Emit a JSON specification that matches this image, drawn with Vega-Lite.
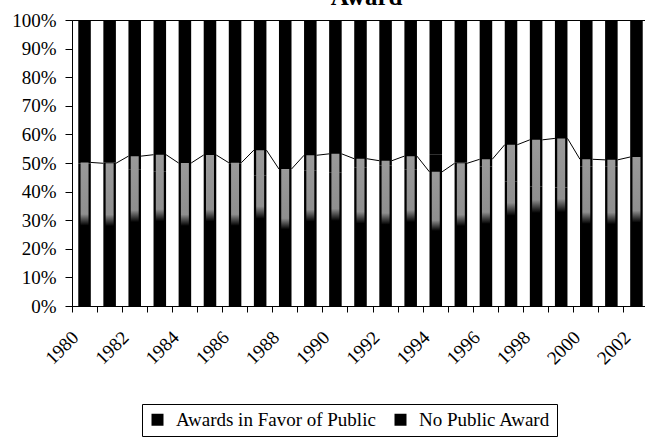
{
  "$schema": "https://vega.github.io/schema/vega-lite/v6.json",
  "width": 577,
  "height": 286,
  "autosize": {"type": "none"},
  "padding": {"left": 72, "top": 20, "right": 0, "bottom": 133},
  "background": "white",
  "config": {
    "view": {"stroke": "black", "strokeWidth": 1},
    "font": "Liberation Serif"
  },
  "title": {
    "text": "Award",
    "font": "Liberation Serif",
    "fontSize": 25,
    "fontWeight": "bold",
    "color": "black",
    "anchor": "middle",
    "baseline": "alphabetic",
    "offset": -6,
    "dy": 13,
    "dx": 6
  },
  "data": {
    "values": [
      {"year": 1980, "series": "Awards in Favor of Public", "value": 50.2},
      {"year": 1980, "series": "No Public Award", "value": 49.8},
      {"year": 1981, "series": "Awards in Favor of Public", "value": 49.9},
      {"year": 1981, "series": "No Public Award", "value": 50.1},
      {"year": 1982, "series": "Awards in Favor of Public", "value": 52.4},
      {"year": 1982, "series": "No Public Award", "value": 47.6},
      {"year": 1983, "series": "Awards in Favor of Public", "value": 52.9},
      {"year": 1983, "series": "No Public Award", "value": 47.1},
      {"year": 1984, "series": "Awards in Favor of Public", "value": 50.0},
      {"year": 1984, "series": "No Public Award", "value": 50.0},
      {"year": 1985, "series": "Awards in Favor of Public", "value": 52.8},
      {"year": 1985, "series": "No Public Award", "value": 47.2},
      {"year": 1986, "series": "Awards in Favor of Public", "value": 50.1},
      {"year": 1986, "series": "No Public Award", "value": 49.9},
      {"year": 1987, "series": "Awards in Favor of Public", "value": 54.5},
      {"year": 1987, "series": "No Public Award", "value": 45.5},
      {"year": 1988, "series": "Awards in Favor of Public", "value": 47.9},
      {"year": 1988, "series": "No Public Award", "value": 52.1},
      {"year": 1989, "series": "Awards in Favor of Public", "value": 52.7},
      {"year": 1989, "series": "No Public Award", "value": 47.3},
      {"year": 1990, "series": "Awards in Favor of Public", "value": 53.2},
      {"year": 1990, "series": "No Public Award", "value": 46.8},
      {"year": 1991, "series": "Awards in Favor of Public", "value": 51.5},
      {"year": 1991, "series": "No Public Award", "value": 48.5},
      {"year": 1992, "series": "Awards in Favor of Public", "value": 50.8},
      {"year": 1992, "series": "No Public Award", "value": 49.2},
      {"year": 1993, "series": "Awards in Favor of Public", "value": 52.4},
      {"year": 1993, "series": "No Public Award", "value": 47.6},
      {"year": 1994, "series": "Awards in Favor of Public", "value": 46.9},
      {"year": 1994, "series": "No Public Award", "value": 53.1},
      {"year": 1995, "series": "Awards in Favor of Public", "value": 49.9},
      {"year": 1995, "series": "No Public Award", "value": 50.1},
      {"year": 1996, "series": "Awards in Favor of Public", "value": 51.3},
      {"year": 1996, "series": "No Public Award", "value": 48.7},
      {"year": 1997, "series": "Awards in Favor of Public", "value": 56.4},
      {"year": 1997, "series": "No Public Award", "value": 43.6},
      {"year": 1998, "series": "Awards in Favor of Public", "value": 58.1},
      {"year": 1998, "series": "No Public Award", "value": 41.9},
      {"year": 1999, "series": "Awards in Favor of Public", "value": 58.6},
      {"year": 1999, "series": "No Public Award", "value": 41.4},
      {"year": 2000, "series": "Awards in Favor of Public", "value": 51.3},
      {"year": 2000, "series": "No Public Award", "value": 48.7},
      {"year": 2001, "series": "Awards in Favor of Public", "value": 51.1},
      {"year": 2001, "series": "No Public Award", "value": 48.9},
      {"year": 2002, "series": "Awards in Favor of Public", "value": 52.1},
      {"year": 2002, "series": "No Public Award", "value": 47.9}
    ]
  },
  "encoding": {
    "x": {
      "field": "year",
      "type": "ordinal",
      "scale": {"paddingInner": 0.5, "paddingOuter": 0.25},
      "axis": {
        "title": null,
        "labelAngle": -45,
        "labelAlign": "right",
        "labelBaseline": "middle",
        "bandPosition": -0.5,
        "labelOffset": -9,
        "labelPadding": 22,
        "labelExpr": "datum.value % 2 == 0 ? datum.label : ''",
        "labelFont": "Liberation Serif",
        "labelFontSize": 19,
        "labelColor": "black",
        "labelOverlap": false,
        "domainColor": "black",
        "tickColor": "black",
        "tickSize": 6,
        "grid": false
      }
    }
  },
  "resolve": {"axis": {"y": "independent"}},
  "layer": [
    {
      "mark": {"type": "bar"},
      "encoding": {
        "y": {
          "field": "value",
          "type": "quantitative",
          "stack": "zero",
          "scale": {"domain": [0, 100], "nice": false},
          "axis": {
            "title": null,
            "values": [0, 10, 20, 30, 40, 50, 60, 70, 80, 90, 100],
            "labelExpr": "datum.value + '%'",
            "labelFont": "Liberation Serif",
            "labelFontSize": 19,
            "labelColor": "black",
            "labelOverlap": false,
            "labelSeparation": 0,
            "labelFlush": false,
            "domainColor": "black",
            "tickColor": "black",
            "tickSize": 7,
            "labelPadding": 9,
            "grid": false
          }
        },
        "color": {
          "field": "series",
          "type": "nominal",
          "scale": {
            "domain": ["Awards in Favor of Public", "No Public Award"],
            "range": ["#000000", "#000000"]
          },
          "legend": {
            "title": null,
            "orient": "none",
            "legendX": 70,
            "legendY": 384,
            "direction": "horizontal",
            "symbolType": "square",
            "symbolSize": 144,
            "symbolStrokeWidth": 0,
            "labelFont": "Liberation Serif",
            "labelFontSize": 19,
            "labelColor": "black",
            "labelLimit": 400,
            "labelOffset": 9,
            "columnPadding": 15,
            "padding": 6,
            "strokeColor": "black",
            "fillColor": "white"
          }
        }
      }
    },
    {
      "transform": [{"filter": "datum.series == 'Awards in Favor of Public'"}],
      "mark": {
        "type": "bar",
        "size": 8,
        "fill": {
          "gradient": "linear",
          "x1": 0, "y1": 0, "x2": 0, "y2": 1,
          "stops": [
            {"offset": 0, "color": "#9a9a9a"},
            {"offset": 0.36, "color": "#8f8f8f"},
            {"offset": 0.44, "color": "#000000"},
            {"offset": 1, "color": "#000000"}
          ]
        }
      },
      "encoding": {
        "y": {"field": "value", "type": "quantitative", "stack": null, "axis": null}
      }
    },
    {
      "transform": [
        {"filter": "datum.series == 'Awards in Favor of Public'"},
        {
          "window": [
            {"op": "lead", "field": "year", "as": "nextYear"},
            {"op": "lead", "field": "value", "as": "nextValue"}
          ],
          "sort": [{"field": "year", "order": "ascending"}]
        },
        {"filter": "datum.nextYear != null"}
      ],
      "mark": {"type": "rule", "color": "black", "strokeWidth": 1, "xOffset": 6.3, "x2Offset": -6.3},
      "encoding": {
        "x2": {"field": "nextYear"},
        "y": {"field": "value", "type": "quantitative", "axis": null},
        "y2": {"field": "nextValue"}
      }
    }
  ]
}
